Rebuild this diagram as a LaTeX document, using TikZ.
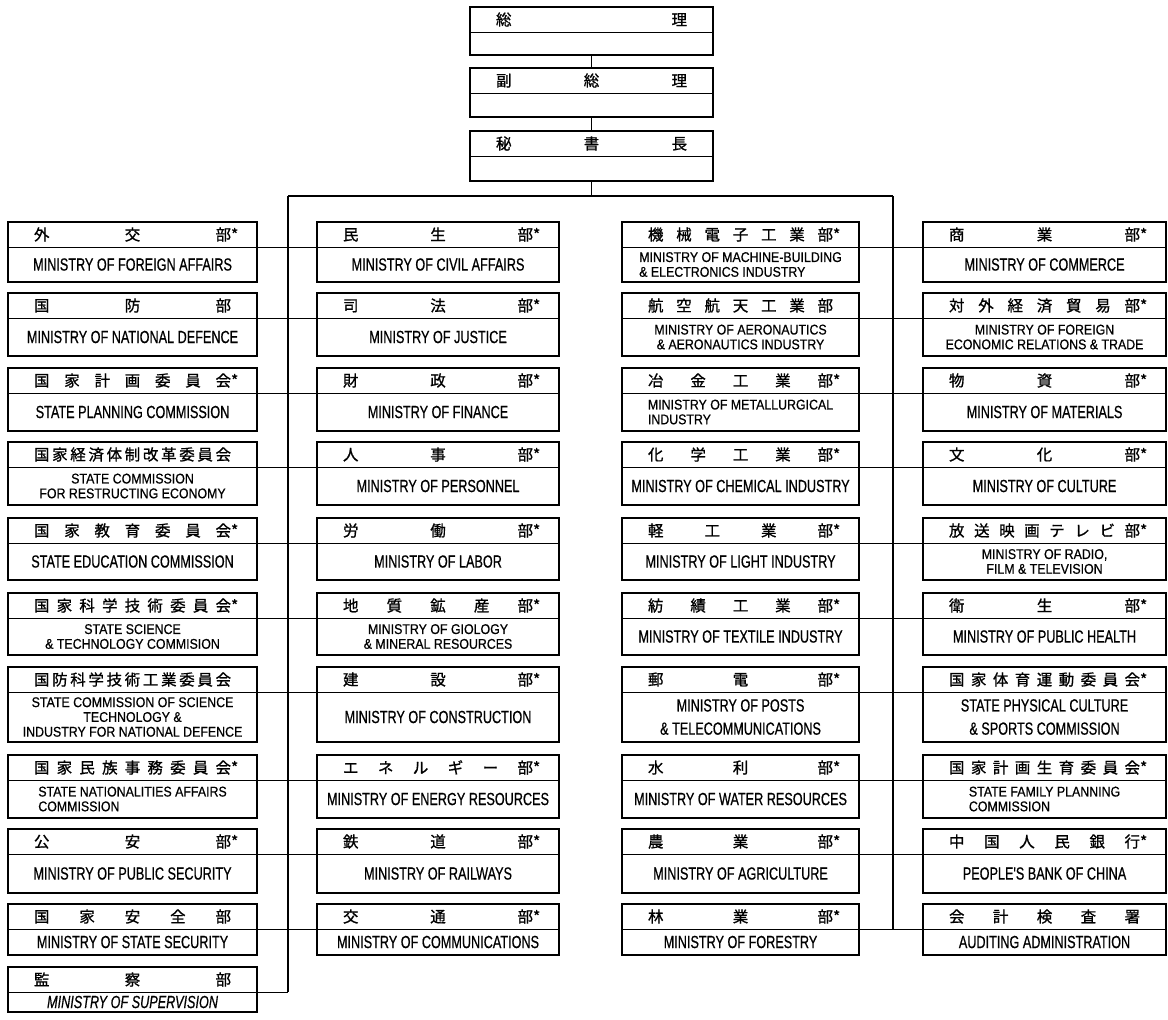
\documentclass[tikz,border=0pt]{standalone}
\usepackage{fontspec}
\newfontfamily\jpfont{Noto Sans CJK JP}[FakeBold=1]
\newfontfamily\enfont{Liberation Sans}[FakeStretch=0.72, FakeBold=0.6]
\newfontfamily\enfontc{Liberation Sans}[FakeStretch=0.88, FakeBold=0.6]
\usetikzlibrary{positioning}
\tikzset{
  hd/.style={draw, line width=0.6pt, inner sep=0pt, outer sep=0pt,
    minimum width=#1cm, minimum height=0.625cm,
    font=\jpfont\fontsize{11}{12}\selectfont,
    execute at begin node={\spaceskip=0pt plus 1fill\relax}},
  tw/.style={text width=#1cm},
  bd/.style={draw, line width=0.6pt, inner sep=0pt, outer sep=0pt,
    minimum width=#1cm, align=center},
  one/.style={font=\enfont\fontsize{12.5}{15}\selectfont},
  pair/.style={font=\enfont\fontsize{12.5}{16.5}\selectfont},
  two/.style={font=\enfontc\fontsize{10}{10.5}\selectfont},
  twol/.style={two, align=left},
  ital/.style={font=\enfont\itshape\fontsize{12.5}{15}\selectfont},
  frame/.style={line width=1.3pt},
  trunk/.style={line width=1.3pt},
  branch/.style={line width=0.7pt}
}

\begin{document}
\begin{tikzpicture}[x=0.025cm, y=-0.025cm]
\path[fill=white] (0,0) rectangle (1168,1019);
\useasboundingbox (0,0) rectangle (1168,1019);

% leadership
\node[hd=6.075, tw=4.775, anchor=north west] (pm-h) at (470,7) {総 理};
\node[bd=6.075, below=0pt of pm-h, minimum height=0.575cm] (pm-b) {};
\node[hd=6.075, tw=4.775, anchor=north west] (vpm-h) at (470,68) {副 総 理};
\node[bd=6.075, below=0pt of vpm-h, minimum height=0.6cm] (vpm-b) {};
\node[hd=6.075, tw=4.775, anchor=north west] (sg-h) at (470,131) {秘 書 長};
\node[bd=6.075, below=0pt of sg-h, minimum height=0.625cm] (sg-b) {};
\foreach \n in {pm,vpm,sg}
  \draw[frame] (\n-h.north west) rectangle (\n-b.south east);

\coordinate (tr1) at (288,196);
\coordinate (tr3) at (893,196);

% column 1
\foreach \ty/\by/\hdr/\txt/\fs [count=\i] in {
  222/282/{外 交 部\rlap{*}}/{MINISTRY OF FOREIGN AFFAIRS}/one,
  293/356/{国 防 部}/{MINISTRY OF NATIONAL DEFENCE}/one,
  368/431/{国 家 計 画 委 員 会\rlap{*}}/{STATE PLANNING COMMISSION}/one,
  442/505/{国 家 経 済 体 制 改 革 委 員 会}/{STATE COMMISSION\\FOR RESTRUCTING ECONOMY}/two,
  518/580/{国 家 教 育 委 員 会\rlap{*}}/{STATE EDUCATION COMMISSION}/one,
  593/655/{国 家 科 学 技 術 委 員 会\rlap{*}}/{STATE SCIENCE\\\& TECHNOLOGY COMMISION}/two,
  667/742/{国 防 科 学 技 術 工 業 委 員 会}/{STATE COMMISSION OF SCIENCE\\TECHNOLOGY \&\\INDUSTRY FOR NATIONAL DEFENCE}/two,
  755/818/{国 家 民 族 事 務 委 員 会\rlap{*}}/{STATE NATIONALITIES AFFAIRS\\COMMISSION}/twol,
  829/893/{公 安 部\rlap{*}}/{MINISTRY OF PUBLIC SECURITY}/one,
  904/955/{国 家 安 全 部}/{MINISTRY OF STATE SECURITY}/one,
  967/1012/{監 察 部}/{MINISTRY OF SUPERVISION}/ital} {
  \node[hd=6.225, tw=4.925, anchor=north west] (c1-\i-h) at (8,\ty) {\hdr};
  \node[bd=6.225, \fs, below=0pt of c1-\i-h, minimum height={(\by-\ty-25)*0.025cm}] (c1-\i-b) {\txt};
  \draw[frame] (c1-\i-h.north west) rectangle (c1-\i-b.south east);
  \draw[branch] (c1-\i-h.south east) -- (c1-\i-h.south east -| tr1);
}

% column 2
\foreach \ty/\by/\hdr/\txt/\fs [count=\i] in {
  222/282/{民 生 部\rlap{*}}/{MINISTRY OF CIVIL AFFAIRS}/one,
  293/356/{司 法 部\rlap{*}}/{MINISTRY OF JUSTICE}/one,
  368/431/{財 政 部\rlap{*}}/{MINISTRY OF FINANCE}/one,
  442/505/{人 事 部\rlap{*}}/{MINISTRY OF PERSONNEL}/one,
  518/580/{労 働 部\rlap{*}}/{MINISTRY OF LABOR}/one,
  593/655/{地 質 鉱 産 部\rlap{*}}/{MINISTRY OF GIOLOGY\\\& MINERAL RESOURCES}/two,
  667/742/{建 設 部\rlap{*}}/{MINISTRY OF CONSTRUCTION}/one,
  755/818/{エ ネ ル ギ ー 部\rlap{*}}/{MINISTRY OF ENERGY RESOURCES}/one,
  829/893/{鉄 道 部\rlap{*}}/{MINISTRY OF RAILWAYS}/one,
  904/955/{交 通 部\rlap{*}}/{MINISTRY OF COMMUNICATIONS}/one} {
  \node[hd=6.05, tw=4.75, anchor=north west] (c2-\i-h) at (317,\ty) {\hdr};
  \node[bd=6.05, \fs, below=0pt of c2-\i-h, minimum height={(\by-\ty-25)*0.025cm}] (c2-\i-b) {\txt};
  \draw[frame] (c2-\i-h.north west) rectangle (c2-\i-b.south east);
  \draw[branch] (c2-\i-h.south west) -- (c2-\i-h.south west -| tr1);
}

% column 3
\foreach \ty/\by/\hdr/\txt/\fs [count=\i] in {
  222/282/{機 械 電 子 工 業 部\rlap{*}}/{MINISTRY OF MACHINE-BUILDING\\\& ELECTRONICS INDUSTRY}/twol,
  293/356/{航 空 航 天 工 業 部}/{MINISTRY OF AERONAUTICS\\\& AERONAUTICS INDUSTRY}/two,
  368/431/{冶 金 工 業 部\rlap{*}}/{MINISTRY OF METALLURGICAL\\INDUSTRY}/twol,
  442/505/{化 学 工 業 部\rlap{*}}/{MINISTRY OF CHEMICAL INDUSTRY}/one,
  518/580/{軽 工 業 部\rlap{*}}/{MINISTRY OF LIGHT INDUSTRY}/one,
  593/655/{紡 績 工 業 部\rlap{*}}/{MINISTRY OF TEXTILE INDUSTRY}/one,
  667/742/{郵 電 部\rlap{*}}/{MINISTRY OF POSTS\\\& TELECOMMUNICATIONS}/pair,
  755/818/{水 利 部\rlap{*}}/{MINISTRY OF WATER RESOURCES}/one,
  829/893/{農 業 部\rlap{*}}/{MINISTRY OF AGRICULTURE}/one,
  904/955/{林 業 部\rlap{*}}/{MINISTRY OF FORESTRY}/one} {
  \node[hd=5.925, tw=4.625, anchor=north west] (c3-\i-h) at (622,\ty) {\hdr};
  \node[bd=5.925, \fs, below=0pt of c3-\i-h, minimum height={(\by-\ty-25)*0.025cm}] (c3-\i-b) {\txt};
  \draw[frame] (c3-\i-h.north west) rectangle (c3-\i-b.south east);
  \draw[branch] (c3-\i-h.south east) -- (c3-\i-h.south east -| tr3);
}

% column 4
\foreach \ty/\by/\hdr/\txt/\fs [count=\i] in {
  222/282/{商 業 部\rlap{*}}/{MINISTRY OF COMMERCE}/one,
  293/356/{対 外 経 済 貿 易 部\rlap{*}}/{MINISTRY OF FOREIGN\\ECONOMIC RELATIONS \& TRADE}/two,
  368/431/{物 資 部\rlap{*}}/{MINISTRY OF MATERIALS}/one,
  442/505/{文 化 部\rlap{*}}/{MINISTRY OF CULTURE}/one,
  518/580/{放 送 映 画 テ レ ビ 部\rlap{*}}/{MINISTRY OF RADIO,\\FILM \& TELEVISION}/two,
  593/655/{衛 生 部\rlap{*}}/{MINISTRY OF PUBLIC HEALTH}/one,
  667/742/{国 家 体 育 運 動 委 員 会\rlap{*}}/{STATE PHYSICAL CULTURE\\\& SPORTS COMMISSION}/pair,
  755/818/{国 家 計 画 生 育 委 員 会\rlap{*}}/{STATE FAMILY PLANNING\\COMMISSION}/twol,
  829/893/{中 国 人 民 銀 行\rlap{*}}/{PEOPLE'S BANK OF CHINA}/one,
  904/955/{会 計 検 査 署}/{AUDITING ADMINISTRATION}/one} {
  \node[hd=6.075, tw=4.775, anchor=north west] (c4-\i-h) at (923,\ty) {\hdr};
  \node[bd=6.075, \fs, below=0pt of c4-\i-h, minimum height={(\by-\ty-25)*0.025cm}] (c4-\i-b) {\txt};
  \draw[frame] (c4-\i-h.north west) rectangle (c4-\i-b.south east);
  \draw[branch] (c4-\i-h.south west) -- (c4-\i-h.south west -| tr3);
}

% trunks
\draw[trunk] (pm-b) -- (vpm-h);
\draw[trunk] (vpm-b) -- (sg-h);
\draw[trunk] (sg-b.south) -- (sg-b.south |- tr1);
\draw[trunk] (tr1) -- (tr3);
\draw[trunk] (tr1) -- (tr1 |- c1-11-h.south);
\draw[trunk] (tr3) -- (tr3 |- c4-10-h.south);
\end{tikzpicture}
\end{document}
